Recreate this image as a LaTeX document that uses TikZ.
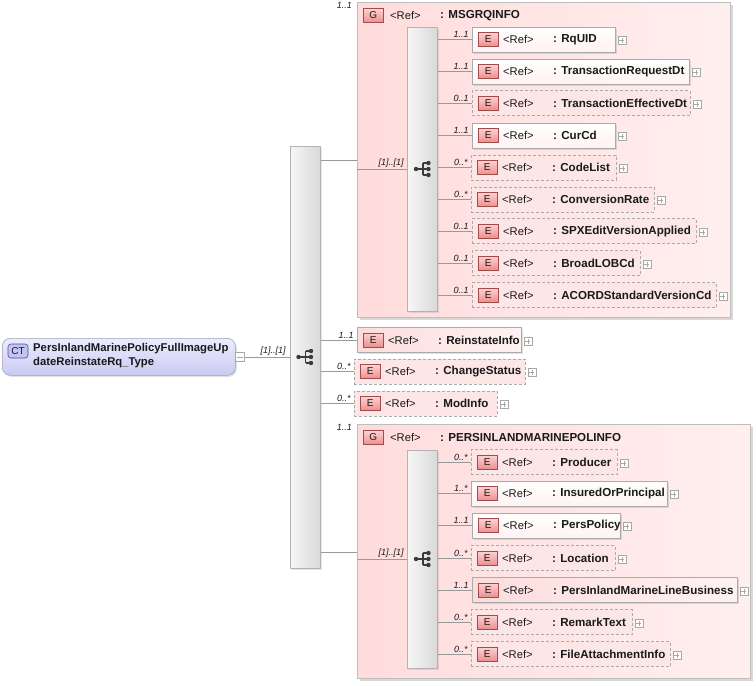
\documentclass[tikz,border=0pt]{standalone}
\usepackage{fontspec}
\setmainfont{Liberation Sans}
\usetikzlibrary{shadows}
\definecolor{connc}{HTML}{9A9A9A}
\definecolor{elbd}{HTML}{ABABAB}
\definecolor{txt}{HTML}{1A1A1A}
\definecolor{grpl}{HTML}{FFDCDC}
\definecolor{grpr}{HTML}{FFEFEF}
\definecolor{grpbd}{HTML}{BDBDBD}
\definecolor{seql}{HTML}{F7F7F7}
\definecolor{seqr}{HTML}{D9D9D9}
\definecolor{seqbd}{HTML}{B3B3B3}
\definecolor{badgetop}{HTML}{FFD2D2}
\definecolor{badgebot}{HTML}{EE8E8E}
\definecolor{badgebd}{HTML}{A04C4C}
\definecolor{dashfill}{HTML}{FDE6E6}
\definecolor{pinkl}{HTML}{FCDCDC}
\definecolor{pinkr}{HTML}{FFF2F2}
\definecolor{ctt}{HTML}{ECECFF}
\definecolor{ctb}{HTML}{CACAF2}
\definecolor{ctbd}{HTML}{A2A2BA}
\definecolor{ctbadgebd}{HTML}{4E4E96}
\definecolor{ctbadgef}{HTML}{C4C4F4}
\definecolor{plusc}{HTML}{A8A8A8}
\definecolor{iconc}{HTML}{3A3A3A}
\tikzset{
  conn/.style={draw=connc, line width=0.6pt},
  elbase/.style={draw=elbd, line width=0.6pt, minimum height=25pt, anchor=west, inner sep=0pt},
  elsolid/.style={elbase, top color=white, bottom color=pinkr,
    drop shadow={shadow xshift=1.5pt, shadow yshift=-1.5pt, opacity=0.25}},
  elpink/.style={elbase, left color=pinkl, right color=pinkr,
    drop shadow={shadow xshift=1.5pt, shadow yshift=-1.5pt, opacity=0.25}},
  eldash/.style={elbase, dashed, dash pattern=on 3pt off 2pt, fill=dashfill},
  badge/.style={draw=badgebd, top color=badgetop, bottom color=badgebot, line width=0.6pt,
    minimum width=20pt, minimum height=14pt, inner sep=0pt, text=txt,
    font=\fontsize{10}{10}\selectfont},
  reft/.style={font=\fontsize{11.2}{12}\selectfont, inner sep=0pt, text=txt},
  namet/.style={font=\fontsize{11.6}{12}\selectfont\bfseries, inner sep=0pt, text=txt},
  mult/.style={font=\fontsize{9}{10}\selectfont\itshape, inner sep=0pt, text=txt},
  plusbox/.style={draw=plusc, fill=white, minimum size=8pt, inner sep=0pt, line width=0.5pt,
    path picture={\draw[plusc, line width=0.5pt] ([xshift=1.5pt]path picture bounding box.west) -- ([xshift=-1.5pt]path picture bounding box.east);
                  \draw[plusc, line width=0.5pt] ([yshift=-1.5pt]path picture bounding box.north) -- ([yshift=1.5pt]path picture bounding box.south);}},
  minusbox/.style={draw=plusc, fill=white, minimum size=9pt, inner sep=0pt, line width=0.5pt,
    path picture={\draw[plusc, line width=0.5pt] ([xshift=1.5pt]path picture bounding box.west) -- ([xshift=-1.5pt]path picture bounding box.east);}},
  seqbox/.style={draw=seqbd, left color=seql, right color=seqr, minimum width=30pt, inner sep=0pt,
    anchor=north west, line width=0.6pt,
    drop shadow={shadow xshift=1.5pt, shadow yshift=-1.5pt, opacity=0.2}},
  groupbox/.style={draw=grpbd, left color=grpl, right color=grpr, anchor=north west, inner sep=0pt,
    line width=0.6pt, drop shadow={shadow xshift=2.5pt, shadow yshift=-2.5pt, opacity=0.3}},
  ctbox/.style={draw=ctbd, top color=ctt, bottom color=ctb, rounded corners=8pt, inner sep=0pt,
    anchor=north west, line width=0.6pt,
    drop shadow={shadow xshift=1.5pt, shadow yshift=-1.5pt, opacity=0.25}},
  ctbadge/.style={draw=ctbadgebd, fill=ctbadgef, rounded corners=3pt, minimum width=20pt,
    minimum height=14pt, inner sep=0pt, text=txt, line width=0.6pt, font=\fontsize{10}{10}\selectfont},
}
% seq icon centred on a named coordinate
\newcommand\seqicon[1]{%
  \draw[iconc, line width=1.1pt] ([xshift=-6.5pt]#1) -- ([xshift=0.5pt]#1);
  \draw[iconc, line width=1.1pt] ([xshift=0.5pt,yshift=6pt]#1) -- ([xshift=0.5pt,yshift=-6pt]#1);
  \fill[iconc] ([xshift=-6.5pt]#1) circle (2.2pt);
  \foreach \dy in {6,0,-6}{%
    \draw[iconc, line width=1.1pt] ([xshift=0.5pt,yshift=\dy pt]#1) -- ([xshift=6pt,yshift=\dy pt]#1);
    \fill[iconc] ([xshift=6pt,yshift=\dy pt]#1) circle (2.2pt);}%
}
% element: name, style, x, y, width, label, multiplicity, sequence node
\newcommand\elt[8]{%
  \node[#2, minimum width=#5pt] (#1) at (#3,#4) {};
  \node[badge, anchor=west] (#1b) at ([xshift=6pt]#1.west) {E};
  \node[reft, anchor=west] (#1r) at ([xshift=31pt]#1.west) {<Ref>};
  \node[namet, anchor=west] (#1n) at ([xshift=81pt]#1.west) {: #6};
  \node[plusbox, anchor=west] (#1p) at ([xshift=2pt,yshift=-1pt]#1.east) {};
  \draw[conn] (#1.west -| #8.east) -- node[mult, pos=1, anchor=south east, xshift=-3pt, yshift=1.5pt] {#7} (#1.west);
}
% group header: group node, label
\newcommand\grphead[2]{%
  \node[badge, anchor=west] (#1b) at ([xshift=6pt,yshift=-13.5pt]#1.north west) {G};
  \node[reft, anchor=west] (#1r) at ([xshift=33pt,yshift=-13.5pt]#1.north west) {<Ref>};
  \node[namet, anchor=west] (#1n) at ([xshift=83pt,yshift=-13.5pt]#1.north west) {: #2};
}
\begin{document}
\begin{tikzpicture}[x=1pt, y=-1pt]
\useasboundingbox (0,0) rectangle (756,686);

% complex type
\node[ctbox, minimum width=233pt, minimum height=37pt] (ct) at (2,338) {};
\node[ctbadge] (ctbdg) at (18,351) {CT};
\node[namet, anchor=north west, align=left, font=\fontsize{11.3}{14}\selectfont\bfseries] (ctname) at (33,343)
  {PersInlandMarinePolicyFullImageUp\\dateReinstateRq\_Type};
\node[minusbox] (ctm) at (240,357) {};

% main sequence
\node[seqbox, minimum height=422pt] (mainseq) at (290,146) {};
\coordinate (mainseqc) at (305,357);
\seqicon{mainseqc}
\draw[conn] (ctm.east) -- node[mult, pos=1, anchor=south east, xshift=-4pt, yshift=1.5pt] {[1]..[1]} (ctm.east -| mainseq.west);

% group 1
\node[groupbox, minimum width=373pt, minimum height=315pt] (g1) at (357,2) {};
\grphead{g1}{MSGRQINFO}
\node[mult, anchor=north east] (g1m) at ([xshift=-5pt,yshift=0pt]g1.north west) {1..1};
\coordinate (g1in) at (357,160);
\draw[conn] (g1in -| mainseq.east) -- (g1in);
\node[seqbox, minimum height=284pt] (s1) at (407,27) {};
\coordinate (s1c) at (422.5,169);
\seqicon{s1c}
\draw[conn] (s1.west -| g1.west) -- node[mult, pos=1, anchor=south east, xshift=-3pt, yshift=1.5pt] {[1]..[1]} (s1.west);

\elt{rquid}{elsolid}{472}{39.5}{143}{RqUID}{1..1}{s1}
\elt{trd}{elsolid}{472}{71.5}{217}{TransactionRequestDt}{1..1}{s1}
\elt{ted}{eldash}{472}{103}{218}{TransactionEffectiveDt}{0..1}{s1}
\elt{curcd}{elsolid}{472}{135.5}{143}{CurCd}{1..1}{s1}
\elt{codelist}{eldash}{471}{167.5}{145}{CodeList}{0..*}{s1}
\elt{convrate}{eldash}{471}{199.5}{183}{ConversionRate}{0..*}{s1}
\elt{spx}{eldash}{472}{231}{224}{SPXEditVersionApplied}{0..1}{s1}
\elt{broad}{eldash}{472}{263}{168}{BroadLOBCd}{0..1}{s1}
\elt{acord}{eldash}{472}{295}{244}{ACORDStandardVersionCd}{0..1}{s1}

% top-level elements
\elt{reinst}{elpink}{357}{340}{164}{ReinstateInfo}{1..1}{mainseq}
\elt{chgstat}{eldash}{354}{371.5}{171}{ChangeStatus}{0..*}{mainseq}
\elt{modinfo}{eldash}{354}{403.5}{143}{ModInfo}{0..*}{mainseq}

% group 2
\node[groupbox, minimum width=393pt, minimum height=254pt] (g2) at (357,424) {};
\grphead{g2}{PERSINLANDMARINEPOLINFO}
\node[mult, anchor=north east] (g2m) at ([xshift=-5pt,yshift=0pt]g2.north west) {1..1};
\coordinate (g2in) at (357,552);
\draw[conn] (g2in -| mainseq.east) -- (g2in);
\node[seqbox, minimum height=218pt] (s2) at (407,450) {};
\coordinate (s2c) at (422.5,559);
\seqicon{s2c}
\draw[conn] (s2.west -| g2.west) -- node[mult, pos=1, anchor=south east, xshift=-3pt, yshift=1.5pt] {[1]..[1]} (s2.west);

\elt{producer}{eldash}{471}{462}{146}{Producer}{0..*}{s2}
\elt{insured}{elsolid}{471}{493.5}{196}{InsuredOrPrincipal}{1..*}{s2}
\elt{perspol}{elsolid}{472}{525.5}{148}{PersPolicy}{1..1}{s2}
\elt{location}{eldash}{471}{558}{144}{Location}{0..*}{s2}
\elt{pimlb}{elpink}{472}{590}{265}{PersInlandMarineLineBusiness}{1..1}{s2}
\elt{remark}{eldash}{471}{622}{161}{RemarkText}{0..*}{s2}
\elt{fileatt}{eldash}{471}{654}{199}{FileAttachmentInfo}{0..*}{s2}
\end{tikzpicture}
\end{document}
